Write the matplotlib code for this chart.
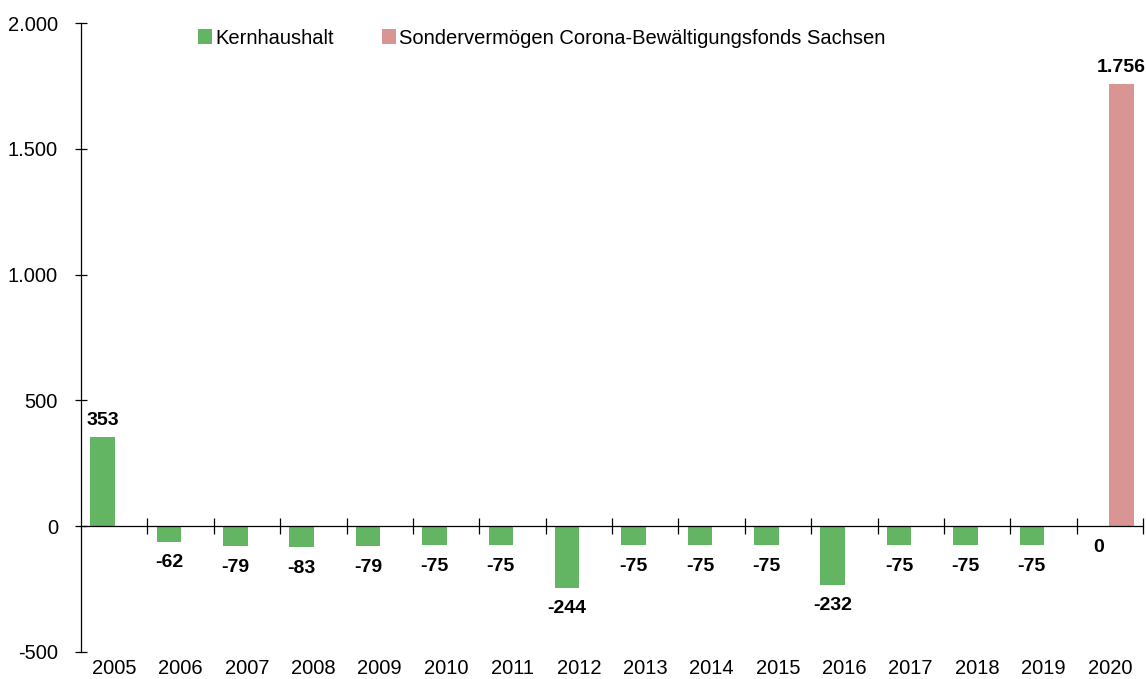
import numpy as np
import matplotlib
matplotlib.use('Agg')
import matplotlib.pyplot as plt
from matplotlib.ticker import FuncFormatter

years = [str(y) for y in range(2005, 2021)]
kern = [353, -62, -79, -83, -79, -75, -75, -244, -75, -75, -75, -232, -75, -75, -75, 0]
sonder = [0, 0, 0, 0, 0, 0, 0, 0, 0, 0, 0, 0, 0, 0, 0, 1756]

green = '#63b463'
pink = '#d99494'

plt.rcParams['font.family'] = ['Liberation Sans', 'DejaVu Sans']

def de(v, pos=None):
  return '{:,.0f}'.format(v).replace(',', '.')

fig = plt.figure(figsize=(11.46, 6.79), dpi=100)
ax = fig.add_axes([0.0707, 0.0398, 0.9267, 0.9263])

x = np.arange(len(years))
w = 0.37
off = 0.175
ax.bar(x - off, kern, w, color=green, label='Kernhaushalt', zorder=2)
ax.bar(x + off, sonder, w, color=pink, label='Sondervermögen Corona-Bewältigungsfonds Sachsen', zorder=2)

# value labels
for i, v in enumerate(kern):
  if v > 0:
    ax.annotate(de(v), (x[i] - off, v), xytext=(0, 6), textcoords='offset points',
                ha='center', va='bottom', fontsize=14, fontweight='bold')
  else:
    ax.annotate(de(v), (x[i] - off, v), xytext=(0, -9), textcoords='offset points',
                ha='center', va='top', fontsize=14, fontweight='bold')
for i, v in enumerate(sonder):
  if v != 0:
    ax.annotate(de(v), (x[i] + off, v), xytext=(0, 6), textcoords='offset points',
                ha='center', va='bottom', fontsize=14, fontweight='bold')

ax.set_xlim(-0.5, len(years) - 0.5)
ax.set_ylim(-500, 2000)
ax.set_yticks(np.arange(-500, 2001, 500))
ax.yaxis.set_major_formatter(FuncFormatter(de))

for s in ['top', 'right']:
  ax.spines[s].set_visible(False)
ax.spines['bottom'].set_position(('data', 0))
ax.spines['left'].set_linewidth(0.9)
ax.spines['bottom'].set_linewidth(0.9)

# category boundaries on the zero line
ax.set_xticks(np.arange(0.5, len(years), 1.0))
ax.set_xticklabels([])
ax.tick_params(axis='x', direction='inout', length=12, width=0.9)
ax.tick_params(axis='y', direction='inout', length=9, width=0.9, labelsize=14.5, pad=12)

# year labels below the plot
for i, y in enumerate(years):
  ax.text(x[i], -0.027, y, transform=ax.get_xaxis_transform(), ha='center', va='center', fontsize=14.5)

ax.legend(loc='upper left', bbox_to_anchor=(0.093, 1.02), ncol=2, frameon=False, fontsize=14.5,
          handlelength=0.7, handleheight=0.7, handletextpad=0.15, columnspacing=2.4)

fig.savefig('out.png', dpi=100)
